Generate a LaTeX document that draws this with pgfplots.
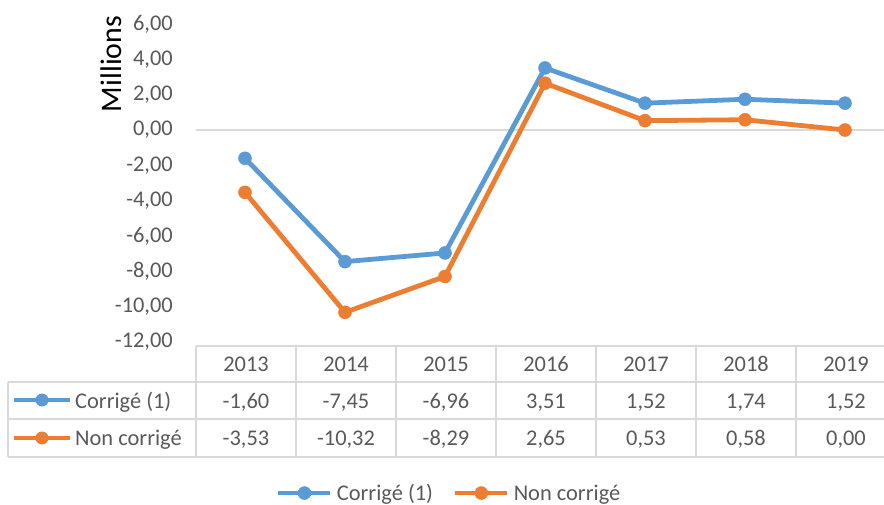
\documentclass[border=0pt]{standalone}
\usepackage{pgfplots}
\pgfplotsset{compat=1.18}
\usepackage{fontspec}
\setmainfont{Carlito}
\definecolor{cblue}{HTML}{5B9BD5}
\definecolor{corange}{HTML}{ED7D31}
\definecolor{tgray}{HTML}{595959}
\definecolor{lgray}{HTML}{D9D9D9}
\newcommand{\tf}{\fontsize{22.5}{27}\selectfont}
\begin{document}
\begin{tikzpicture}
\useasboundingbox (0,0) rectangle (884bp,-505bp);
\begin{axis}[
  at={(196bp,-342bp)}, anchor=south west,
  scale only axis, width=688bp, height=318bp,
  xmin=-0.49, xmax=6.39, ymin=-12, ymax=6,
  ytick={-12,-10,...,6}, xtick=\empty,
  axis line style={draw=none}, tick style={draw=none},
  clip=false,
  yticklabel={\pgfmathprintnumber[use comma,fixed,fixed zerofill,precision=2,assume math mode=true]{\tick}},
  yticklabel style={font=\tf, text=tgray, anchor=east, inner sep=0pt, xshift=-23bp},
  legend style={at={(0.368,-0.475)}, anchor=center, draw=none, fill=none,
    legend columns=2, font=\tf, text=tgray,
    /tikz/every odd column/.append style={column sep=2bp},
    /tikz/every even column/.append style={column sep=18bp}},
  legend image code/.code={\draw[mark repeat=2,mark phase=2,#1] plot coordinates {(0bp,0bp) (26bp,0bp) (52bp,0bp)};},
]
\draw[lgray, line width=2bp] (axis cs:-0.49,0) -- (axis cs:6.39,0);
\addplot[cblue, line width=4.8bp, mark=*, mark size=6.5bp, mark options={fill=cblue, draw=cblue, line width=0.5bp}]
  coordinates {(0,-1.60) (1,-7.45) (2,-6.96) (3,3.51) (4,1.52) (5,1.74) (6,1.52)};
\addlegendentry{Corrigé (1)}
\addplot[corange, line width=4.8bp, mark=*, mark size=6.5bp, mark options={fill=corange, draw=corange, line width=0.5bp}]
  coordinates {(0,-3.53) (1,-10.32) (2,-8.29) (3,2.65) (4,0.53) (5,0.58) (6,0.00)};
\addlegendentry{Non corrigé}
\end{axis}
\begin{scope}[x=1bp,y=-1bp]
\node[rotate=90, font=\fontsize{30}{36}\selectfont, inner sep=0pt] at (111,64) {Millions};
\begin{scope}[lgray, line width=1.5bp]
\draw (196,346) -- (884,346);
\foreach \y in {382,419,457} \draw (8,\y) -- (884,\y);
\draw (8,382) -- (8,457);
\foreach \x in {196,296,396,496,596,696,796} \draw (\x,346) -- (\x,457);
\end{scope}
\begin{scope}[every node/.style={font=\tf, text=tgray, inner sep=0pt, anchor=base}]
\foreach \t [count=\i from 0] in {2013,2014,2015,2016,2017,2018,2019}
  \node at (246+100*\i,371) {\t};
\foreach \t [count=\i from 0] in {{-1,60},{-7,45},{-6,96},{3,51},{1,52},{1,74},{1,52}}
  \node at (246+100*\i,408) {\t};
\foreach \t [count=\i from 0] in {{-3,53},{-10,32},{-8,29},{2,65},{0,53},{0,58},{0,00}}
  \node at (246+100*\i,445) {\t};
\node[anchor=base west] at (75,408) {Corrigé (1)};
\node[anchor=base west] at (75,445) {Non corrigé};
\end{scope}
\draw[cblue, line width=4.8bp] (14,400) -- (70,400);
\fill[cblue] (42,400) circle (6.5bp);
\draw[corange, line width=4.8bp] (14,438) -- (70,438);
\fill[corange] (42,438) circle (6.5bp);
\end{scope}
\end{tikzpicture}
\end{document}
